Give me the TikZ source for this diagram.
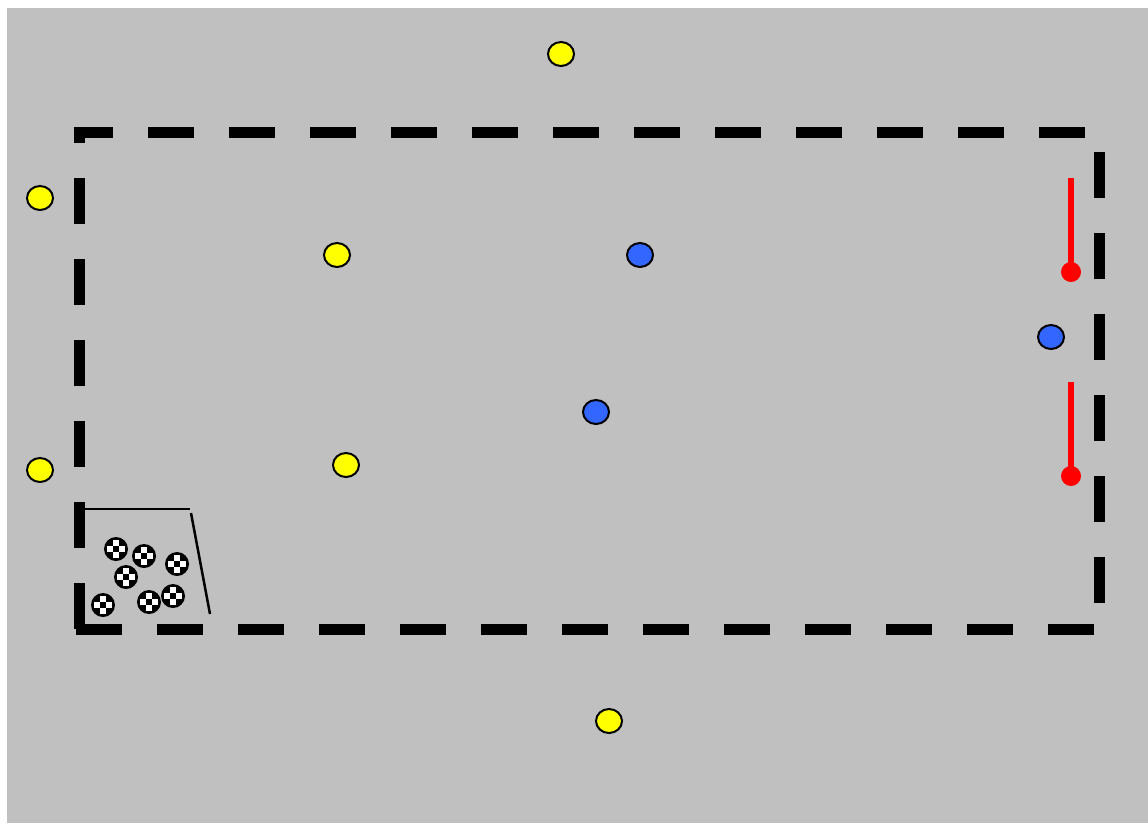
\documentclass[tikz,border=0pt]{standalone}
\usetikzlibrary{shapes.geometric}
\definecolor{bggrey}{RGB}{192,192,192}
\definecolor{ballyellow}{RGB}{255,255,0}
\definecolor{ballblue}{RGB}{51,102,255}
\definecolor{markred}{RGB}{255,0,0}
\tikzset{
  border/.style={line width=11pt, dash pattern=on 46pt off 35pt, line cap=butt},
  cone/.style={ellipse, draw=black, line width=2pt, minimum width=26pt, minimum height=24pt, inner sep=0pt},
  yellowcone/.style={cone, fill=ballyellow},
  bluecone/.style={cone, fill=ballblue},
  goalline/.style={line width=2.5pt, black},
  redpole/.style={line width=6pt, markred},
}
\newcommand{\soccerball}[2]{%
  \fill[black] (#1,#2) circle (12);
  \fill[white] (#1-3,#2-9) rectangle (#1+3,#2-3);
  \fill[white] (#1-9,#2-3) rectangle (#1-3,#2+3);
  \fill[white] (#1+3,#2-3) rectangle (#1+9,#2+3);
  \fill[white] (#1-3,#2+3) rectangle (#1+3,#2+9);
}
\begin{document}
\begin{tikzpicture}[x=1pt,y=-1pt]
\useasboundingbox (0,0) rectangle (1148,823);
\fill[bggrey] (7,8) rectangle (1148,823);

% dashed field border
\coordinate (tr) at (1085,132.5);
\coordinate (tl) at (74,132.5);
\coordinate (rt) at (1099.5,152);
\coordinate (rb) at (1099.5,605);
\coordinate (bl) at (76,629.5);
\coordinate (br) at (1094,629.5);
\coordinate (lb) at (79.5,629);
\coordinate (lt) at (79.5,127);
\draw[border] (tr) -- (tl);
\draw[border] (rt) -- (rb);
\draw[border] (bl) -- (br);
\draw[border] (lb) -- (lt);

% goal area
\coordinate (g1) at (85,509);
\coordinate (g2) at (190,509);
\coordinate (g3) at (191,513);
\coordinate (g4) at (210,614);
\draw[goalline] (g1) -- (g2);
\draw[goalline] (g3) -- (g4);

% balls
\soccerball{116}{549}
\soccerball{144}{556}
\soccerball{177}{564}
\soccerball{126}{577}
\soccerball{103}{605}
\soccerball{149}{602}
\soccerball{173}{596}

% red poles
\coordinate (p1t) at (1071,178);
\coordinate (p1b) at (1071,272);
\coordinate (p2t) at (1071,382);
\coordinate (p2b) at (1071,476);
\draw[redpole] (p1t) -- (p1b);
\fill[markred] (p1b) circle (10);
\draw[redpole] (p2t) -- (p2b);
\fill[markred] (p2b) circle (10);

% yellow cones
\node[yellowcone] (y1) at (561,54) {};
\node[yellowcone] (y2) at (40,198) {};
\node[yellowcone] (y3) at (337,255) {};
\node[yellowcone] (y4) at (40,470) {};
\node[yellowcone] (y5) at (346,465) {};
\node[yellowcone] (y6) at (609,721) {};

% blue cones
\node[bluecone] (b1) at (640,255) {};
\node[bluecone] (b2) at (1051,337) {};
\node[bluecone] (b3) at (596,412) {};
\end{tikzpicture}
\end{document}
